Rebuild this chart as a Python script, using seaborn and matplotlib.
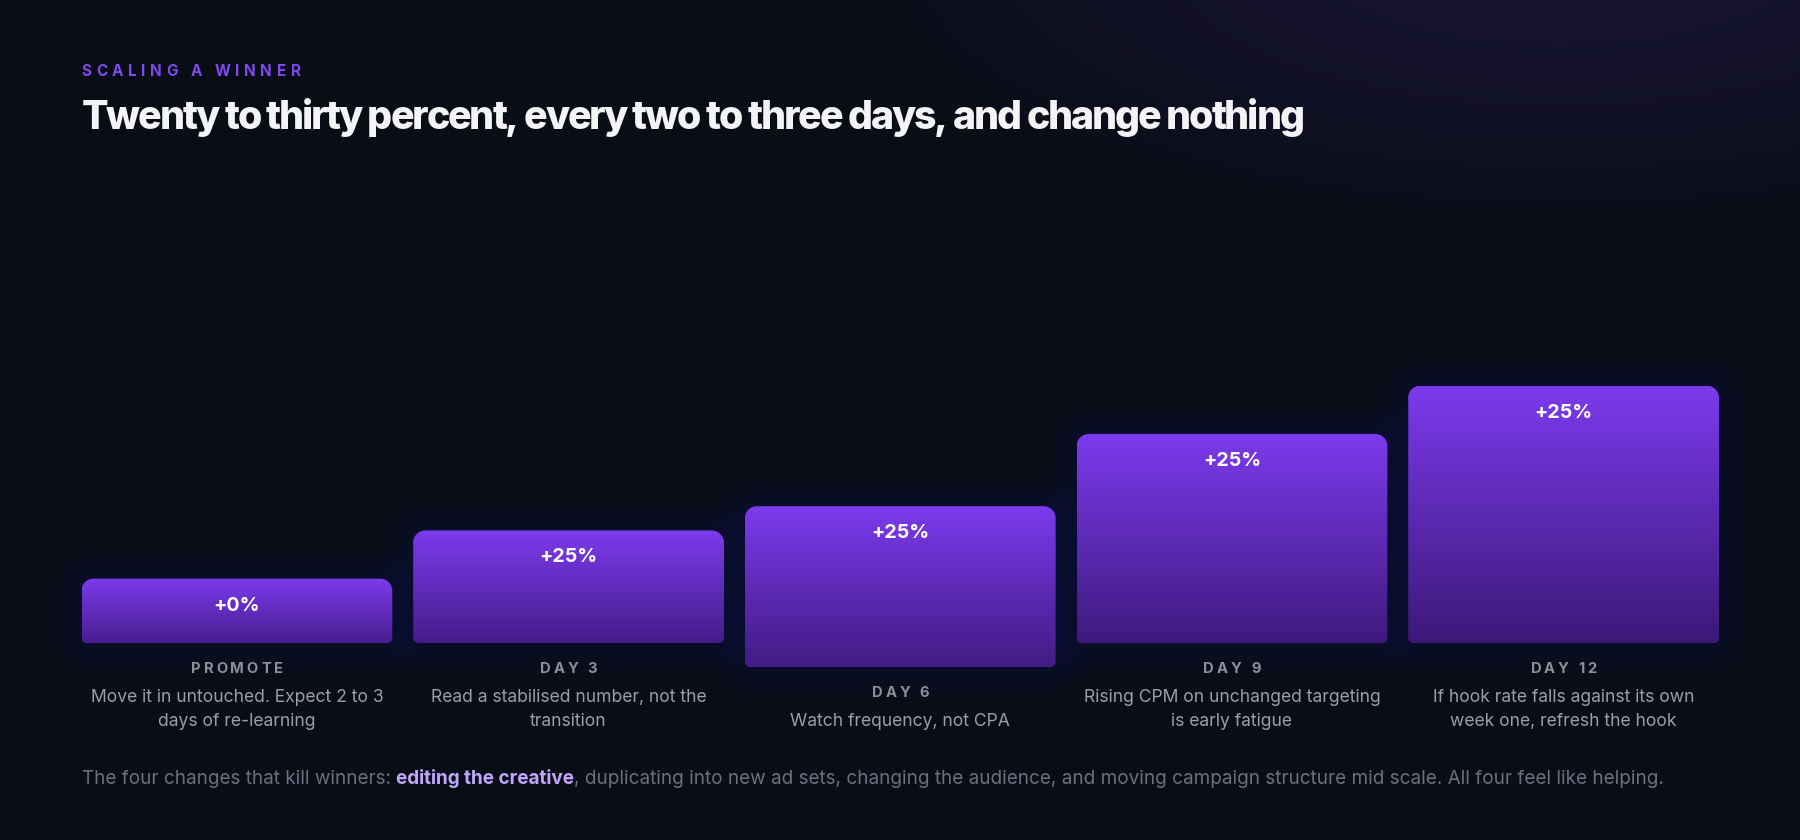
import numpy as np
import pandas as pd
import matplotlib
matplotlib.use("Agg")
import matplotlib.pyplot as plt
import seaborn as sns
from matplotlib.path import Path
from matplotlib.patches import PathPatch
import matplotlib.transforms as mtransforms
from matplotlib.font_manager import FontProperties

# ---------------- data ----------------
stages = ["PROMOTE", "DAY 3", "DAY 6", "DAY 9", "DAY 12"]
bar_heights = [25.0, 43.75, 62.5, 81.25, 100.0]
step_labels = ["+0%", "+25%", "+25%", "+25%", "+25%"]
notes = [
    "Move it in untouched. Expect 2 to 3\ndays of re-learning",
    "Read a stabilised number, not the\ntransition",
    "Watch frequency, not CPA",
    "Rising CPM on unchanged targeting\nis early fatigue",
    "If hook rate falls against its own\nweek one, refresh the hook",
]
nudged_stage = "DAY 6"
kicker = "SCALING A WINNER"
title = "Twenty to thirty percent, every two to three days, and change nothing"
footer_lead = "The four changes that kill winners: "
footer_em = "editing the creative"
footer_tail = (", duplicating into new ad sets, changing the audience, and moving "
               "campaign structure mid scale. All four feel like helping.")

# ---------------- style ----------------
W, H, DPI = 1800, 840, 100
BG = "#090d15"
BAR_TOP = np.array([124, 58, 237]) / 255
BAR_BOT = np.array([60, 25, 120]) / 255
GLOW = "#7c3aed"
FONT = ["Inter", "DejaVu Sans"]

sns.set_theme(style="dark")
plt.rcParams["font.family"] = FONT

fig = plt.figure(figsize=(W / DPI, H / DPI), dpi=DPI)
fig.patch.set_facecolor(BG)

# background with soft top-right glow
bgax = fig.add_axes([0, 0, 1, 1])
bgax.set_axis_off()
yy, xx = np.mgrid[0:H, 0:W]
d = ((xx - 1560) / 820.0) ** 2 + ((yy + 60) / 330.0) ** 2
g = np.clip(1.0 - d, 0, 1) ** 1.5
base = np.array([9, 13, 21]) / 255
glow = np.array([22, 19, 48]) / 255
img = base + (glow - base) * g[..., None]
bgax.imshow(img, extent=[0, W, H, 0], aspect="auto", interpolation="bilinear")
bgax.set_xlim(0, W)
bgax.set_ylim(H, 0)

# ---------------- bars ----------------
bw = 0.937
left_px, right_px = 81.5, 1719.0
base_px, full_px = 643.0, 257.3
Y_LO = -20.0  # room below the baseline for the nudged column
px_per_unit = full_px / 100.0
ax_bottom_px = base_px - Y_LO * px_per_unit
ax = fig.add_axes([left_px / W, (H - ax_bottom_px) / H, (right_px - left_px) / W,
                   (100 - Y_LO) * px_per_unit / H])
df = pd.DataFrame({"stage": stages, "height": bar_heights})
sns.barplot(data=df, x="stage", y="height", width=bw, ax=ax, color=GLOW)
ax.set_xlim(-bw / 2, len(stages) - 1 + bw / 2)
ax.set_ylim(Y_LO, 100)
ax.set_axis_off()
ax.patch.set_alpha(0)

p0 = ax.transData.transform((0, 0))
p1 = ax.transData.transform((1, 1))
sx = 1.0 / (p1[0] - p0[0])  # data x per pixel
sy = 1.0 / (p1[1] - p0[1])  # data y per pixel

def rounded_rect(x0, y0, x1, y1, rt, rb):
    k = 0.5523
    rtx, rty = rt * sx, rt * sy
    rbx, rby = rb * sx, rb * sy
    verts = [(x0 + rbx, y0), (x1 - rbx, y0),
             (x1 - rbx + k * rbx, y0), (x1, y0 + rby - k * rby), (x1, y0 + rby),
             (x1, y1 - rty),
             (x1, y1 - rty + k * rty), (x1 - rtx + k * rtx, y1), (x1 - rtx, y1),
             (x0 + rtx, y1),
             (x0 + rtx - k * rtx, y1), (x0, y1 - rty + k * rty), (x0, y1 - rty),
             (x0, y0 + rby),
             (x0, y0 + rby - k * rby), (x0 + rbx - k * rbx, y0), (x0 + rbx, y0),
             (x0 + rbx, y0)]
    C = Path.CURVE4
    codes = [Path.MOVETO, Path.LINETO, C, C, C, Path.LINETO, C, C, C,
             Path.LINETO, C, C, C, Path.LINETO, C, C, C, Path.CLOSEPOLY]
    return Path(verts, codes)

NUDGE_PX = 24
col_nudge = []
grad = np.linspace(0, 1, 256)[:, None]
for i, p in enumerate(list(ax.patches)):
    x0, wdt, h = p.get_x(), p.get_width(), p.get_height()
    p.set_visible(False)
    nudge = NUDGE_PX if stages[i] == nudged_stage else 0
    col_nudge.append(nudge)
    y0 = -nudge * sy
    y1 = y0 + h
    x1 = x0 + wdt
    # glow
    for e in np.arange(2, 36, 2.0):
        gp = PathPatch(rounded_rect(x0 - e * sx, y0 - e * sy, x1 + e * sx, y1 + e * sy, 12 + e, 5 + e),
                       facecolor=GLOW, edgecolor="none", alpha=0.0085,
                       clip_on=False, zorder=1)
        ax.add_patch(gp)
    bar = PathPatch(rounded_rect(x0, y0, x1, y1, 12, 5), facecolor="none",
                    edgecolor="none", clip_on=False, zorder=3)
    ax.add_patch(bar)
    bot = BAR_BOT + (1 - h / 100.0) * np.array([16, 6, 30]) / 255
    colors = BAR_TOP[None, None, :] * (1 - grad[..., None]) + bot[None, None, :] * grad[..., None]
    im = ax.imshow(colors, extent=(x0, x1, y0, y1), origin="upper", aspect="auto",
                   zorder=2, interpolation="bilinear")
    im.set_clip_path(bar)
    # value label
    ax.annotate(step_labels[i], xy=(i, y1), xycoords="data", xytext=(0, -32),
                textcoords="offset pixels", ha="center", va="baseline",
                color="#ffffff", fontsize=14.2, fontweight="bold", zorder=5,
                annotation_clip=False)

ax.set_xlim(-bw / 2, len(stages) - 1 + bw / 2)
ax.set_ylim(Y_LO, 100)

# ---------------- text helpers ----------------
renderer = fig.canvas.get_renderer()
T = mtransforms.Affine2D().scale(1, -1).translate(0, H)  # pixel coords from top-left

def adv(s, fp):
    if not s:
        return 0.0
    w1 = renderer.get_text_width_height_descent(s + "H", fp, ismath=False)[0]
    w2 = renderer.get_text_width_height_descent("H", fp, ismath=False)[0]
    return w1 - w2

def spaced(x, y, s, fp, color, track, ha="left"):
    total = adv(s, fp) + track * (len(s) - 1)
    start = x - total / 2 if ha == "center" else x
    for i, ch in enumerate(s):
        if ch == " ":
            continue
        fig.text(start + adv(s[:i], fp) + i * track, y, ch, fontproperties=fp,
                 color=color, transform=T, ha="left", va="baseline")

# kicker
fp_k = FontProperties(family=FONT, weight="bold", size=11.0)
nat = adv(kicker, fp_k)
spaced(81.5, 76, kicker, fp_k, "#8048f0", (219 - nat) / (len(kicker) - 1))

# title
fp_t = FontProperties(family=FONT, weight=800, size=28.3)
nat = adv(title, fp_t)
spaced(81.5, 129, title, fp_t, "#f4f4f7", (1223 - nat) / (len(title) - 1))

# category labels and notes
fp_c = FontProperties(family=FONT, weight="bold", size=10.6)
fp_n = FontProperties(family=FONT, weight="normal", size=12.6)
for i, s in enumerate(stages):
    cx = ax.transData.transform((i, 0))[0]
    nudge = col_nudge[i]
    spaced(cx, 673 + nudge, s, fp_c, "#8d9099", 2.9, ha="center")
    for j, line in enumerate(notes[i].split("\n")):
        fig.text(cx, 702 + nudge + 24 * j, line, fontproperties=fp_n, color="#9a9ea8",
                 transform=T, ha="center", va="baseline")

# footer, sized to span the reference width
target_footer = 1584.0
fs = 12.3
fp_f = FontProperties(family=FONT, weight="normal", size=fs)
fp_fb = FontProperties(family=FONT, weight="bold", size=fs)
tot = adv(footer_lead, fp_f) + adv(footer_em, fp_fb) + adv(footer_tail, fp_f)
fs = fs * target_footer / tot
fp_f = FontProperties(family=FONT, weight="normal", size=fs)
fp_fb = FontProperties(family=FONT, weight="bold", size=fs)
fx = 81.5
fig.text(fx, 784, footer_lead, fontproperties=fp_f, color="#6b7080", transform=T,
         ha="left", va="baseline")
fx += adv(footer_lead, fp_f)
fig.text(fx, 784, footer_em, fontproperties=fp_fb, color="#c0a6fb", transform=T,
         ha="left", va="baseline")
fx += adv(footer_em, fp_fb)
fig.text(fx, 784, footer_tail, fontproperties=fp_f, color="#6b7080", transform=T,
         ha="left", va="baseline")

fig.savefig("out.png", dpi=DPI, facecolor=BG)
